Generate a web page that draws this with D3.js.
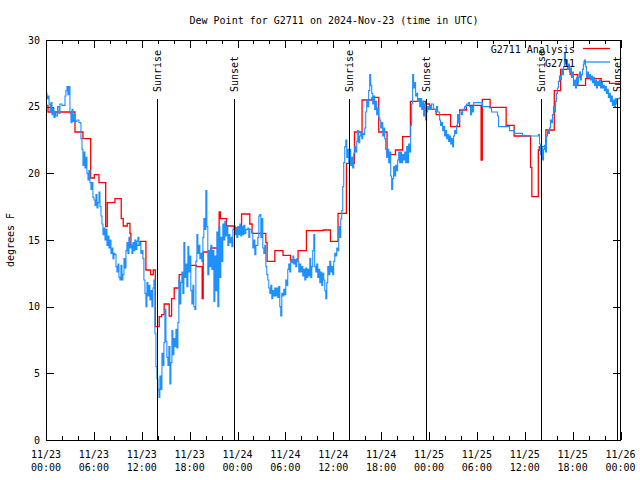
<!DOCTYPE html>
<html><head><meta charset="utf-8">
<script src="https://cdn.jsdelivr.net/npm/d3@7"></script>
<style>
body{margin:0;background:#fff;}
text{font-family:"DejaVu Sans Mono","Liberation Mono",monospace;font-size:10px;fill:#000;}
</style></head>
<body>
<svg id="chart" width="640" height="480"></svg>
<script>
const titleText = "Dew Point for G2711 on 2024-Nov-23 (time in UTC)";
const yLabel = "degrees F";
const seriesNames = ["G2711 Analysis", "G2711"];
const seriesColors = ["#ff0000", "#1e90ff"];
const tickHours = [0,6,12,18,24,30,36,42,48,54,60,66,72];
const tickDates = ["11/23","11/23","11/23","11/23","11/24","11/24","11/24","11/24","11/25","11/25","11/25","11/25","11/26"];
const tickTimes = ["00:00","06:00","12:00","18:00","00:00","06:00","12:00","18:00","00:00","06:00","12:00","18:00","00:00"];
const yTicks = [0,5,10,15,20,25,30];
const eventLabels = ["Sunrise","Sunset","Sunrise","Sunset","Sunrise","Sunset"];
const eventHours = [13.93,23.6,37.97,47.62,62.0,71.55];

// Analysis (hour since 11/23 00:00 UTC, deg F), step series
const analysis = [[0,25.1],[0.25,24.6],[3.63,23.1],[4.63,22.6],[5.6,19.65],[6.05,19.9],[6.64,19.3],[7.48,16.0],[7.68,17.8],[8.64,18.1],[9.43,16.6],[9.68,16.05],[10.18,16.25],[10.52,15.5],[10.64,14.6],[11.78,14.9],[12.52,12.75],[13.11,12.4],[13.44,12.75],[13.7,8.5],[14.19,9.25],[14.49,9.4],[14.81,10.2],[15.44,9.3],[15.74,10.6],[16.07,11.4],[16.69,12.4],[17.62,13.1],[18.87,13.0],[19.57,10.6],[19.7,14.1],[20.66,14.4],[21.7,17.1],[21.85,16.6],[22.63,16.05],[23.67,15.9],[24.51,16.95],[25.54,16.2],[25.83,15.5],[27.55,14.8],[27.71,13.4],[28.68,14.2],[29.71,13.85],[30.64,13.5],[31.59,14.2],[32.64,15.7],[34.72,15.75],[35.65,14.9],[36.6,17.0],[37.65,20.75],[38.66,23.1],[39.61,25.5],[40.86,25.7],[41.7,23.1],[42.74,21.4],[43.79,21.75],[44.7,22.75],[45.67,25.4],[47.55,25.2],[48.08,24.8],[48.9,24.4],[50.71,23.5],[51.84,24.75],[52.68,25.1],[54.53,21.0],[54.68,25.55],[55.66,24.95],[57.67,23.6],[58.67,22.8],[60.73,20.45],[60.89,18.25],[61.7,21.75],[61.82,22.0],[62.65,23.25],[63.7,26.2],[64.49,27.8],[65.7,27.4],[66.65,26.6],[67.62,27.1],[69.58,26.9],[70.62,26.75],[72,26.75]];

// Station observations (hour, deg F)
const observations = [[0,26.0],[0.12,25.6],[0.25,25.8],[0.38,25.2],[0.5,24.6],[0.63,25.3],[0.75,24.4],[0.88,24.9],[1.0,24.2],[1.13,24.6],[1.25,24.3],[1.44,25.0],[1.63,24.5],[1.75,25.2],[2.0,25.1],[2.25,25.1],[2.38,25.8],[2.5,26.2],[2.63,26.5],[2.75,25.9],[2.88,26.5],[3.0,24.5],[3.13,23.8],[3.26,24.8],[3.38,23.9],[3.51,24.4],[3.63,23.9],[3.88,24.0],[4.13,23.8],[4.38,22.6],[4.51,21.8],[4.63,20.6],[4.76,21.6],[4.88,20.4],[5.01,21.2],[5.13,20.0],[5.26,19.5],[5.38,20.2],[5.51,19.3],[5.63,18.8],[5.76,19.3],[5.88,18.2],[6.01,18.0],[6.14,17.6],[6.26,18.4],[6.39,17.4],[6.51,17.8],[6.64,18.6],[6.76,17.5],[6.89,16.8],[7.01,16.2],[7.14,15.4],[7.26,15.9],[7.39,15.0],[7.51,15.8],[7.64,14.6],[7.76,15.3],[7.89,14.4],[8.01,15.0],[8.14,14.0],[8.26,14.4],[8.39,13.6],[8.51,14.0],[8.64,13.9],[8.77,13.0],[8.89,12.6],[9.02,13.2],[9.14,12.2],[9.27,12.0],[9.39,13.1],[9.52,12.0],[9.64,12.4],[9.77,13.6],[9.89,12.9],[10.02,14.2],[10.14,14.8],[10.27,14.0],[10.39,15.2],[10.52,14.4],[10.64,14.6],[10.77,14.0],[10.89,14.8],[11.02,14.2],[11.14,15.0],[11.27,14.3],[11.39,14.9],[11.52,15.2],[11.64,14.6],[11.77,14.8],[11.89,14.0],[12.02,14.2],[12.15,13.6],[12.27,12.0],[12.4,11.0],[12.52,10.0],[12.65,11.8],[12.77,10.8],[12.9,11.6],[13.02,10.5],[13.15,11.2],[13.27,10.0],[13.4,11.4],[13.52,12.0],[13.65,8.0],[13.77,5.5],[13.9,4.6],[14.03,3.8],[14.15,3.2],[14.27,4.8],[14.4,3.8],[14.53,6.5],[14.65,5.6],[14.78,7.3],[14.9,9.8],[15.03,7.4],[15.15,6.2],[15.28,5.6],[15.4,7.0],[15.53,4.2],[15.65,5.8],[15.78,8.2],[15.9,6.4],[16.03,7.6],[16.15,7.0],[16.28,8.3],[16.4,6.9],[16.53,8.8],[16.65,12.0],[16.78,10.2],[16.9,11.8],[17.03,12.6],[17.15,11.0],[17.28,14.8],[17.4,12.2],[17.53,13.2],[17.65,11.5],[17.78,14.5],[17.9,12.6],[18.03,13.8],[18.15,11.2],[18.28,10.2],[18.41,11.6],[18.53,10.0],[18.66,9.8],[18.78,13.4],[18.91,15.4],[19.03,14.0],[19.16,14.6],[19.28,13.6],[19.41,14.0],[19.53,13.4],[19.66,15.2],[19.78,16.6],[19.91,15.8],[20.03,18.7],[20.16,16.0],[20.28,12.4],[20.41,14.2],[20.54,13.0],[20.66,14.6],[20.79,12.8],[20.91,14.2],[21.04,10.4],[21.16,13.8],[21.29,11.2],[21.41,15.6],[21.54,10.0],[21.66,16.0],[21.79,12.2],[21.91,15.2],[22.04,13.4],[22.16,16.2],[22.29,15.0],[22.41,16.4],[22.54,15.3],[22.66,16.0],[22.79,14.6],[22.91,15.4],[23.04,14.8],[23.16,15.2],[23.29,14.5],[23.42,15.8],[23.54,16.0],[23.67,15.4],[23.79,15.8],[23.92,15.2],[24.04,16.0],[24.17,15.4],[24.29,16.2],[24.42,15.3],[24.54,16.0],[24.67,15.4],[24.79,16.1],[24.92,15.5],[25.04,15.8],[25.29,15.9],[25.42,15.2],[25.54,15.8],[25.79,15.6],[25.92,14.4],[26.04,15.0],[26.17,13.9],[26.3,14.6],[26.55,15.2],[26.67,16.8],[26.8,16.9],[26.92,15.2],[27.05,16.6],[27.17,14.4],[27.3,14.0],[27.42,14.6],[27.55,13.0],[27.67,12.4],[27.8,12.0],[27.92,11.4],[28.05,11.0],[28.17,11.6],[28.3,10.6],[28.42,11.2],[28.55,10.8],[28.67,11.4],[28.8,10.8],[28.92,11.4],[29.05,10.7],[29.17,11.5],[29.3,10.0],[29.42,9.3],[29.55,11.0],[29.67,10.8],[29.8,11.3],[29.92,10.9],[30.05,12.0],[30.17,11.6],[30.3,12.8],[30.42,13.2],[30.55,12.6],[30.67,13.4],[30.8,13.3],[30.93,13.8],[31.05,13.2],[31.18,13.5],[31.3,13.0],[31.43,13.6],[31.55,13.4],[31.68,12.6],[31.8,13.2],[31.93,12.6],[32.05,13.0],[32.18,12.3],[32.3,12.8],[32.43,12.0],[32.56,12.9],[32.68,12.2],[32.81,12.8],[32.93,12.3],[33.06,13.6],[33.18,12.2],[33.31,13.0],[33.43,14.2],[33.56,15.4],[33.68,13.0],[33.81,12.6],[33.93,13.2],[34.06,12.2],[34.18,12.8],[34.31,11.8],[34.43,12.6],[34.56,11.6],[34.68,12.5],[34.81,12.0],[34.94,11.2],[35.06,10.6],[35.19,11.8],[35.31,13.0],[35.44,12.4],[35.56,13.4],[35.69,12.6],[35.81,13.0],[35.94,12.4],[36.06,13.4],[36.19,14.0],[36.31,13.8],[36.44,14.4],[36.56,14.2],[36.69,16.0],[36.81,15.2],[36.94,16.6],[37.06,17.2],[37.19,19.0],[37.31,20.8],[37.44,22.0],[37.57,22.5],[37.69,21.2],[37.82,21.8],[37.94,20.8],[38.07,21.8],[38.19,20.6],[38.32,21.2],[38.44,20.4],[38.57,21.5],[38.69,22.0],[38.82,21.6],[38.94,22.4],[39.07,23.2],[39.19,22.3],[39.32,22.8],[39.44,23.1],[39.57,22.6],[39.69,23.0],[39.82,22.9],[39.94,23.4],[40.07,24.6],[40.19,25.5],[40.32,25.0],[40.44,26.2],[40.57,27.4],[40.69,26.6],[40.82,26.0],[40.94,25.2],[41.07,25.8],[41.19,24.8],[41.32,25.4],[41.44,24.4],[41.57,24.9],[41.69,24.2],[41.82,24.0],[41.95,23.4],[42.07,23.8],[42.2,22.8],[42.32,23.4],[42.45,22.6],[42.57,21.8],[42.7,21.2],[42.82,21.8],[42.95,20.8],[43.07,21.6],[43.2,19.8],[43.32,18.8],[43.45,19.6],[43.57,20.5],[43.7,19.8],[43.82,20.6],[43.95,20.2],[44.07,21.0],[44.2,21.6],[44.32,20.8],[44.45,21.6],[44.57,20.8],[44.7,21.4],[44.82,21.0],[44.95,21.6],[45.07,20.8],[45.2,22.0],[45.32,20.8],[45.45,22.2],[45.57,21.6],[45.7,23.6],[45.82,25.2],[45.95,27.4],[46.07,26.4],[46.2,26.8],[46.32,25.8],[46.45,26.0],[46.57,25.4],[46.7,25.6],[46.83,25.0],[46.95,25.6],[47.08,24.8],[47.2,25.4],[47.33,24.3],[47.45,25.2],[47.58,24.0],[47.7,24.6],[47.83,25.0],[47.95,24.8],[48.08,25.1],[48.2,24.8],[48.33,25.2],[48.58,24.8],[48.83,24.6],[48.95,25.0],[49.08,24.6],[49.33,24.0],[49.45,23.6],[49.58,23.8],[49.71,23.2],[49.83,23.5],[49.96,22.8],[50.08,23.2],[50.21,22.6],[50.33,22.9],[50.46,22.4],[50.58,22.8],[50.71,22.2],[50.83,22.6],[50.96,22.0],[51.08,22.8],[51.21,23.2],[51.33,23.0],[51.46,23.6],[51.58,24.4],[51.71,23.8],[51.83,24.6],[52.08,24.4],[52.21,24.8],[52.46,25.0],[52.71,25.2],[52.96,25.3],[53.08,25.0],[53.21,24.4],[53.33,25.0],[53.46,24.6],[53.59,25.3],[54.59,25.3],[54.71,25.0],[55.6,24.9],[55.84,24.6],[56.47,24.6],[56.59,24.3],[56.72,23.5],[58.09,23.2],[58.72,23.0],[59.72,22.8],[60.6,22.8],[61.47,22.8],[61.72,22.9],[61.85,22.2],[61.97,21.4],[62.1,22.0],[62.22,21.0],[62.35,21.8],[62.47,22.1],[62.6,21.6],[62.72,22.8],[62.85,23.2],[62.97,23.0],[63.1,23.4],[63.22,24.0],[63.35,23.8],[63.47,24.4],[63.6,25.0],[63.72,24.6],[63.85,25.4],[63.97,26.0],[64.1,26.4],[64.22,26.9],[64.35,27.3],[64.47,27.0],[64.6,27.8],[64.72,27.4],[64.85,28.0],[64.97,29.0],[65.1,28.2],[65.22,28.5],[65.35,27.8],[65.47,28.2],[65.6,27.6],[65.73,27.9],[65.85,27.2],[65.98,27.6],[66.1,26.6],[66.23,27.0],[66.35,26.4],[66.48,27.2],[66.6,26.8],[66.73,27.2],[66.85,27.6],[66.98,27.0],[67.1,27.4],[67.23,27.8],[67.35,28.2],[67.48,28.5],[67.6,28.0],[67.73,27.2],[67.85,27.6],[67.98,27.2],[68.1,27.4],[68.23,27.0],[68.35,27.3],[68.48,26.8],[68.6,27.2],[68.73,26.6],[68.86,27.0],[68.98,26.4],[69.11,26.9],[69.23,26.6],[69.36,27.0],[69.48,26.4],[69.61,26.8],[69.73,26.4],[69.86,26.6],[69.98,26.2],[70.11,26.5],[70.23,26.0],[70.36,26.3],[70.48,25.7],[70.61,26.0],[70.73,25.4],[70.86,25.8],[70.98,25.1],[71.11,25.5],[71.23,25.0],[71.36,25.6],[71.48,25.2],[71.61,25.6],[71.86,25.7]];

const svg = d3.select("#chart");
const L = 46, R = 620.5, T = 40, B = 440;
const x = d3.scaleLinear().domain([0,72]).range([L,R]);
const y = d3.scaleLinear().domain([0,30]).range([B,T]);
const minorHours = d3.range(0,73,2).filter(h => h % 6 !== 0);

svg.append("rect").attr("width",640).attr("height",480).attr("fill","#fff");

// title
svg.append("text").attr("x",334).attr("y",24).attr("text-anchor","middle").text(titleText);

// axes (inward ticks)
function clean(g){ g.select(".domain").remove(); g.selectAll("line").attr("stroke","#000").attr("shape-rendering","crispEdges"); }
svg.append("g").attr("transform",`translate(0,${B})`)
  .call(d3.axisBottom(x).tickValues(tickHours).tickSizeInner(-8).tickSizeOuter(0).tickFormat(""))
  .call(clean);
svg.append("g").attr("transform",`translate(0,${B})`)
  .call(d3.axisBottom(x).tickValues(minorHours).tickSizeInner(-4).tickSizeOuter(0).tickFormat(""))
  .call(clean);
svg.append("g").attr("transform",`translate(0,${T})`)
  .call(d3.axisTop(x).tickValues(tickHours).tickSizeInner(-8).tickSizeOuter(0).tickFormat(""))
  .call(clean);
svg.append("g").attr("transform",`translate(0,${T})`)
  .call(d3.axisTop(x).tickValues(minorHours).tickSizeInner(-4).tickSizeOuter(0).tickFormat(""))
  .call(clean);
const yl = svg.append("g").attr("transform",`translate(${L},0)`)
  .call(d3.axisLeft(y).tickValues(yTicks).tickSizeInner(-8).tickSizeOuter(0).tickPadding(6));
yl.call(clean);
yl.selectAll("text").attr("fill","#000");
yl.attr("font-size",null).attr("font-family",null);
svg.append("g").attr("transform",`translate(${R},0)`)
  .call(d3.axisRight(y).tickValues(yTicks).tickSizeInner(-8).tickSizeOuter(0).tickFormat(""))
  .call(clean);

// x tick labels (two lines)
const xl = svg.append("g").selectAll("g").data(tickHours).join("g");
xl.append("text").attr("x",d=>x(d)).attr("y",458).attr("text-anchor","middle").text((d,i)=>tickDates[i]);
xl.append("text").attr("x",d=>x(d)).attr("y",471).attr("text-anchor","middle").text((d,i)=>tickTimes[i]);

// y label
svg.append("text").attr("transform","translate(14,240) rotate(-90)").attr("text-anchor","middle").text(yLabel);

// data lines
const line = d3.line().x(d=>x(d[0])).y(d=>y(d[1])).curve(d3.curveStepAfter);
const plot = svg.append("g");
plot.append("path").datum(analysis).attr("d",line).attr("fill","none").attr("stroke",seriesColors[0]).attr("stroke-width",1.3);
plot.append("path").datum(observations).attr("d",line).attr("fill","none").attr("stroke",seriesColors[1]).attr("stroke-width",1.1);

// sunrise/sunset markers
const ev = svg.append("g").selectAll("g").data(eventHours).join("g");
ev.append("line").attr("x1",d=>Math.round(x(d))+0.5).attr("x2",d=>Math.round(x(d))+0.5)
  .attr("y1",T+59).attr("y2",B).attr("stroke","#000").attr("stroke-width",1);
ev.append("text").attr("transform",d=>`translate(${Math.round(x(d))+4},92) rotate(-90)`)
  .text((d,i)=>eventLabels[i]);

// border
svg.append("rect").attr("x",L+0.5).attr("y",T+0.5).attr("width",R-L-0.5).attr("height",B-T-0.5)
  .attr("fill","none").attr("stroke","#000").attr("shape-rendering","crispEdges");

// legend
const lg = svg.append("g").selectAll("g").data(seriesNames).join("g");
lg.append("text").attr("x",575).attr("y",(d,i)=>53+i*13.5).attr("text-anchor","end").text(d=>d);
lg.append("line").attr("x1",583).attr("x2",610).attr("y1",(d,i)=>48.5+i*13.5).attr("y2",(d,i)=>48.5+i*13.5)
  .attr("stroke",(d,i)=>seriesColors[i]).attr("stroke-width",1.3);
</script>
</body></html>
